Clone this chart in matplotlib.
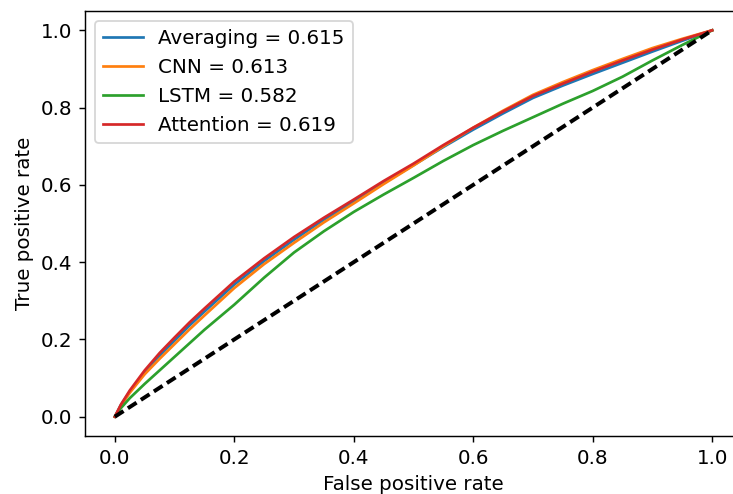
import numpy as np
import matplotlib
matplotlib.use("Agg")
import matplotlib.pyplot as plt

# Curvas ROC
fpr = [0, 0.01, 0.025, 0.05, 0.075, 0.1, 0.125, 0.15, 0.2, 0.25, 0.3, 0.35,
       0.4, 0.45, 0.5, 0.55, 0.6, 0.65, 0.7, 0.75, 0.8, 0.85, 0.9, 0.95, 1.0]
tpr_avg = [0, 0.03, 0.065, 0.115, 0.158, 0.197, 0.236, 0.272, 0.342, 0.403,
           0.458, 0.51, 0.557, 0.605, 0.651, 0.698, 0.743, 0.785, 0.825,
           0.857, 0.887, 0.916, 0.945, 0.973, 1.0]
tpr_cnn = [0, 0.028, 0.062, 0.11, 0.15, 0.188, 0.226, 0.262, 0.333, 0.395,
           0.45, 0.503, 0.552, 0.602, 0.65, 0.7, 0.748, 0.792, 0.833,
           0.866, 0.897, 0.926, 0.954, 0.978, 1.0]
tpr_lstm = [0, 0.022, 0.048, 0.085, 0.12, 0.155, 0.19, 0.225, 0.29, 0.36,
            0.425, 0.48, 0.53, 0.575, 0.618, 0.662, 0.703, 0.74, 0.775,
            0.81, 0.843, 0.88, 0.922, 0.962, 1.0]
tpr_att = [0, 0.031, 0.068, 0.12, 0.165, 0.205, 0.244, 0.28, 0.35, 0.41,
           0.465, 0.515, 0.562, 0.61, 0.655, 0.703, 0.748, 0.79, 0.83,
           0.862, 0.893, 0.922, 0.95, 0.976, 1.0]
labels = ["Averaging = 0.615", "CNN = 0.613", "LSTM = 0.582", "Attention = 0.619"]
diag = [0, 1]

dpi = 130
plt.rcParams["font.size"] = 11
fig = plt.figure(figsize=(733/dpi, 494/dpi), dpi=dpi)
ax = fig.add_axes([85/733, 58/494, 657/733, 425/494])

for y, lab in zip([tpr_avg, tpr_cnn, tpr_lstm, tpr_att], labels):
    ax.plot(fpr, y, label=lab)
ax.plot(diag, diag, "k--", linewidth=2.2, dashes=(2.6, 1.3))

ax.set_xlabel("False positive rate")
ax.set_ylabel("True positive rate")
ax.legend(loc="upper left")

fig.savefig("out.png", dpi=dpi)
